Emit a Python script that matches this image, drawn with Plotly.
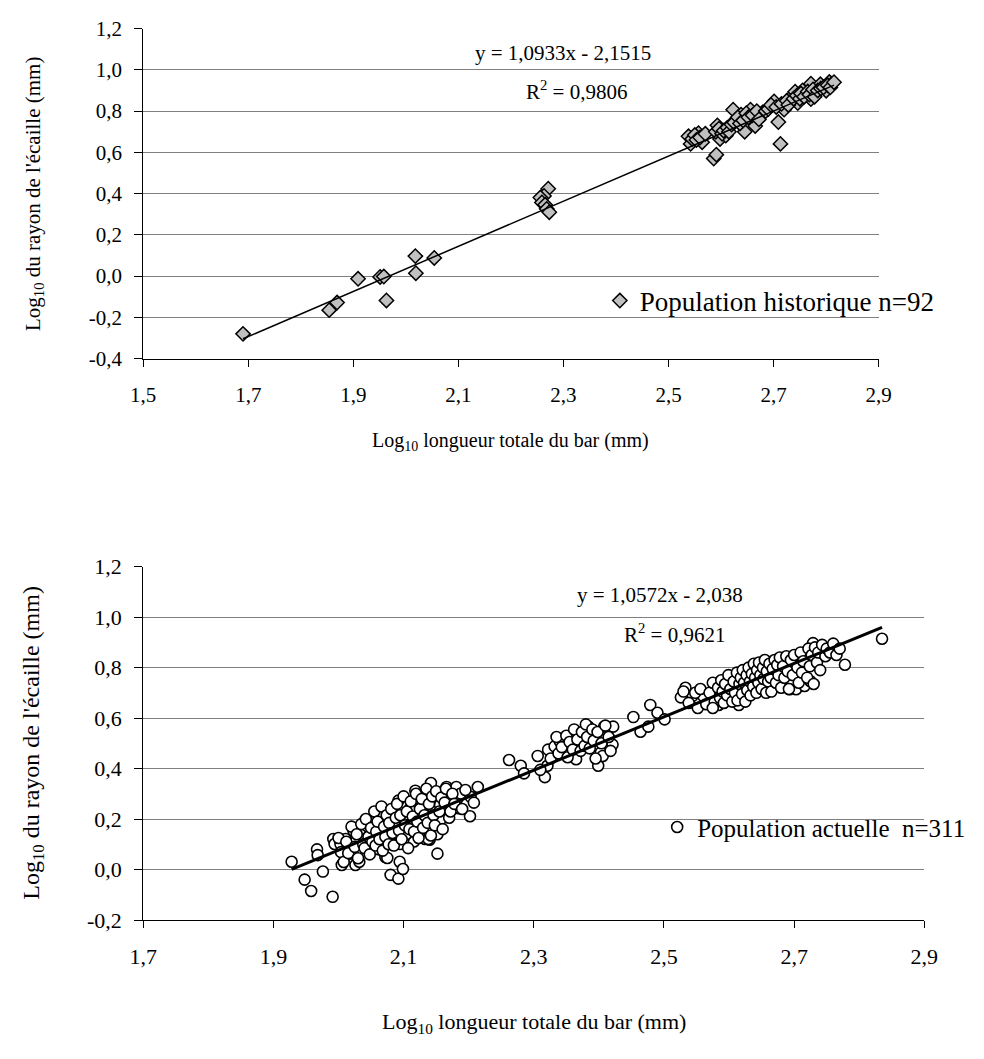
import plotly.graph_objects as go

# ---------------- Historical population (n=92) ----------------
hist_x = [
    1.690, 1.854, 1.869, 1.909, 1.951, 1.958, 1.963, 2.018, 2.019, 2.054,
    2.271, 2.263, 2.256, 2.259, 2.265, 2.268, 2.273,
    2.538, 2.542, 2.557, 2.564, 2.586, 2.591, 2.593, 2.598, 2.609, 2.623,
    2.629, 2.638, 2.645, 2.656, 2.665, 2.679, 2.701, 2.709, 2.713, 2.720,
    2.734, 2.741, 2.746, 2.755, 2.761, 2.771, 2.771, 2.780, 2.789, 2.800,
    2.806, 2.811,
    2.545, 2.550, 2.553, 2.560, 2.570, 2.590, 2.596, 2.602, 2.605, 2.612,
    2.615, 2.620, 2.625, 2.632, 2.636, 2.642, 2.648, 2.652, 2.660, 2.668,
    2.672, 2.685, 2.690, 2.695, 2.705, 2.715, 2.725, 2.728, 2.738, 2.744,
    2.750, 2.752, 2.758, 2.765, 2.768, 2.775, 2.778, 2.784, 2.790, 2.795,
    2.803, 2.808, 2.815,
]
hist_y = [
    -0.280, -0.165, -0.128, -0.013, -0.004, -0.002, -0.118, 0.097, 0.014, 0.088,
    0.424, 0.389, 0.381, 0.357, 0.346, 0.326, 0.310,
    0.678, 0.641, 0.693, 0.649, 0.570, 0.589, 0.731, 0.665, 0.681, 0.807,
    0.760, 0.783, 0.700, 0.807, 0.728, 0.794, 0.847, 0.747, 0.641, 0.807,
    0.870, 0.894, 0.839, 0.900, 0.878, 0.933, 0.858, 0.886, 0.930, 0.899,
    0.941, 0.933,
    0.665, 0.684, 0.660, 0.672, 0.690, 0.700, 0.715, 0.690, 0.705, 0.720,
    0.700, 0.735, 0.745, 0.770, 0.740, 0.755, 0.790, 0.770, 0.780, 0.800,
    0.760, 0.800, 0.810, 0.830, 0.820, 0.835, 0.850, 0.830, 0.860, 0.875,
    0.860, 0.885, 0.870, 0.895, 0.880, 0.905, 0.870, 0.900, 0.910, 0.915,
    0.925, 0.915, 0.940,
]
hist_slope, hist_intercept, hist_r2 = 1.0933, -2.1515, 0.9806

# ---------------- Current population (n=311) ----------------
cur_x = [
    # small fish
    1.928, 1.948, 1.958, 1.967, 1.968, 1.976, 1.991, 1.992, 1.994, 2.003,
    2.004, 2.005, 2.019, 2.026, 2.032, 2.055, 2.062, 2.072, 2.075, 2.080,
    2.092, 2.094, 2.099, 2.095, 2.116, 2.133, 2.140, 2.152,
    2.011, 2.023, 2.034, 2.044, 2.061, 2.064, 2.076, 2.084, 2.086, 2.092,
    2.099, 2.104, 2.110, 2.113, 2.118, 2.124, 2.127, 2.133, 2.136, 2.138,
    2.141, 2.142, 2.143, 2.152, 2.153, 2.156, 2.157, 2.166, 2.168, 2.170,
    2.181, 2.183, 2.185, 2.188, 2.203, 2.202, 2.214,
    2.000, 2.008, 2.012, 2.015, 2.020, 2.025, 2.028, 2.030, 2.035, 2.038,
    2.040, 2.042, 2.046, 2.048, 2.050, 2.052, 2.055, 2.057, 2.058, 2.060,
    2.063, 2.066, 2.068, 2.070, 2.072, 2.074, 2.077, 2.078, 2.081, 2.083,
    2.085, 2.088, 2.090, 2.093, 2.095, 2.097, 2.100, 2.102, 2.105, 2.107,
    2.109, 2.111, 2.114, 2.116, 2.119, 2.121, 2.123, 2.125, 2.128, 2.130,
    2.132, 2.135, 2.137, 2.139, 2.142, 2.144, 2.146, 2.148, 2.150, 2.155,
    2.158, 2.160, 2.163, 2.165, 2.172, 2.175, 2.178, 2.190, 2.195, 2.208,
    # medium fish
    2.262, 2.280, 2.285, 2.306, 2.317, 2.321, 2.322, 2.332, 2.340, 2.346,
    2.357, 2.365, 2.370, 2.376, 2.384, 2.388, 2.399, 2.403, 2.406, 2.408,
    2.421, 2.422, 2.453, 2.464, 2.476, 2.479, 2.490, 2.501,
    2.310, 2.326, 2.335, 2.338, 2.343, 2.350, 2.352, 2.355, 2.360, 2.362,
    2.367, 2.372, 2.374, 2.378, 2.380, 2.382, 2.386, 2.390, 2.392, 2.395,
    2.398, 2.404, 2.410, 2.415, 2.418,
    # large fish
    2.526, 2.533, 2.544, 2.560, 2.581, 2.584, 2.596, 2.601, 2.604, 2.611,
    2.614, 2.615, 2.626, 2.626, 2.636, 2.641, 2.647, 2.656, 2.661, 2.669,
    2.681, 2.691, 2.693, 2.701, 2.703, 2.713, 2.716, 2.718, 2.725, 2.729,
    2.745, 2.778, 2.835,
    2.530, 2.538, 2.548, 2.552, 2.556, 2.565, 2.570, 2.575, 2.578, 2.583,
    2.586, 2.588, 2.590, 2.592, 2.594, 2.597, 2.599, 2.602, 2.605, 2.607,
    2.609, 2.612, 2.613, 2.616, 2.618, 2.620, 2.621, 2.623, 2.625, 2.627,
    2.628, 2.630, 2.632, 2.633, 2.635, 2.637, 2.638, 2.640, 2.642, 2.643,
    2.645, 2.646, 2.648, 2.650, 2.652, 2.653, 2.655, 2.657, 2.658, 2.660,
    2.662, 2.664, 2.665, 2.667, 2.670, 2.672, 2.674, 2.676, 2.678, 2.680,
    2.683, 2.685, 2.688, 2.690, 2.692, 2.695, 2.698, 2.700, 2.705, 2.707,
    2.710, 2.712, 2.714, 2.720, 2.722, 2.724, 2.727, 2.730, 2.732, 2.735,
    2.737, 2.740, 2.743, 2.748, 2.750, 2.755, 2.760, 2.765, 2.770, 2.575,
]
cur_y = [
    # small fish
    0.031, -0.040, -0.085, 0.080, 0.057, -0.008, -0.108, 0.121, 0.101, 0.101,
    0.069, 0.018, 0.063, 0.018, 0.031, 0.121, 0.080, 0.050, 0.046, -0.021,
    -0.036, 0.031, 0.002, 0.101, 0.111, 0.121, 0.118, 0.063,
    0.121, 0.153, 0.159, 0.172, 0.217, 0.179, 0.211, 0.140, 0.188, 0.273,
    0.211, 0.140, 0.243, 0.185, 0.312, 0.136, 0.247, 0.301, 0.179, 0.121,
    0.170, 0.343, 0.250, 0.140, 0.301, 0.256, 0.198, 0.327, 0.288, 0.205,
    0.327, 0.282, 0.243, 0.301, 0.288, 0.211, 0.327,
    0.125, 0.030, 0.110, 0.065, 0.170, 0.090, 0.140, 0.045, 0.180, 0.100,
    0.085, 0.200, 0.130, 0.060, 0.165, 0.110, 0.230, 0.095, 0.150, 0.190,
    0.120, 0.250, 0.075, 0.170, 0.130, 0.215, 0.100, 0.185, 0.240, 0.145,
    0.095, 0.205, 0.260, 0.155, 0.215, 0.120, 0.290, 0.175, 0.230, 0.085,
    0.160, 0.270, 0.210, 0.150, 0.300, 0.190, 0.125, 0.240, 0.280, 0.165,
    0.215, 0.320, 0.185, 0.260, 0.135, 0.290, 0.215, 0.175, 0.310, 0.230,
    0.285, 0.160, 0.265, 0.320, 0.230, 0.300, 0.260, 0.240, 0.315, 0.265,
    # medium fish
    0.434, 0.411, 0.381, 0.450, 0.366, 0.411, 0.475, 0.488, 0.508, 0.469,
    0.488, 0.437, 0.540, 0.501, 0.566, 0.514, 0.411, 0.463, 0.450, 0.566,
    0.495, 0.566, 0.604, 0.546, 0.566, 0.652, 0.621, 0.595,
    0.395, 0.440, 0.525, 0.460, 0.485, 0.530, 0.445, 0.505, 0.475, 0.555,
    0.515, 0.470, 0.545, 0.490, 0.575, 0.525, 0.480, 0.555, 0.510, 0.440,
    0.545, 0.500, 0.570, 0.525, 0.470,
    # large fish
    0.682, 0.720, 0.688, 0.688, 0.701, 0.652, 0.720, 0.675, 0.759, 0.753,
    0.695, 0.652, 0.720, 0.682, 0.804, 0.753, 0.804, 0.730, 0.778, 0.827,
    0.727, 0.836, 0.714, 0.785, 0.714, 0.804, 0.727, 0.862, 0.746, 0.897,
    0.862, 0.811, 0.914,
    0.705, 0.660, 0.700, 0.640, 0.715, 0.655, 0.700, 0.740, 0.665, 0.720,
    0.680, 0.750, 0.705, 0.660, 0.735, 0.690, 0.770, 0.715, 0.665, 0.745,
    0.700, 0.780, 0.670, 0.735, 0.760, 0.695, 0.790, 0.740, 0.665, 0.770,
    0.710, 0.800, 0.745, 0.690, 0.775, 0.725, 0.815, 0.760, 0.700, 0.790,
    0.740, 0.820, 0.770, 0.715, 0.800, 0.755, 0.830, 0.700, 0.785, 0.745,
    0.815, 0.760, 0.705, 0.795, 0.830, 0.740, 0.810, 0.770, 0.840, 0.720,
    0.805, 0.760, 0.845, 0.785, 0.715, 0.830, 0.770, 0.850, 0.800, 0.740,
    0.860, 0.780, 0.825, 0.760, 0.875, 0.805, 0.850, 0.735, 0.880, 0.820,
    0.860, 0.790, 0.890, 0.845, 0.875, 0.860, 0.895, 0.850, 0.875, 0.640,
]
cur_slope, cur_intercept, cur_r2 = 1.0572, -2.038, 0.9621

# ---------------- Axis ticks ----------------
top_xticks = [1.5, 1.7, 1.9, 2.1, 2.3, 2.5, 2.7, 2.9]
top_xtext = ["1,5", "1,7", "1,9", "2,1", "2,3", "2,5", "2,7", "2,9"]
top_yticks = [-0.4, -0.2, 0.0, 0.2, 0.4, 0.6, 0.8, 1.0, 1.2]
top_ytext = ["-0,4", "-0,2", "0,0", "0,2", "0,4", "0,6", "0,8", "1,0", "1,2"]
bot_xticks = [1.7, 1.9, 2.1, 2.3, 2.5, 2.7, 2.9]
bot_xtext = ["1,7", "1,9", "2,1", "2,3", "2,5", "2,7", "2,9"]
bot_yticks = [-0.2, 0.0, 0.2, 0.4, 0.6, 0.8, 1.0, 1.2]
bot_ytext = ["-0,2", "0,0", "0,2", "0,4", "0,6", "0,8", "1,0", "1,2"]

W, H = 984, 1059
FONT = "'Times New Roman', 'Liberation Serif', Times, serif"


def px(x):
    return x / W


def py(y):
    return 1 - y / H


def fr(v, nd):
    return f"{v:.{nd}f}".replace(".", ",")


fig = go.Figure()

# historical scatter + fitted line
fig.add_trace(go.Scatter(
    x=hist_x, y=hist_y, mode="markers", name="Population historique n=92",
    marker=dict(symbol="diamond", size=11, color="#c0c0c0",
                line=dict(color="black", width=1.5)),
    xaxis="x", yaxis="y", legend="legend",
))
hx = [min(hist_x), max(hist_x)]
fig.add_trace(go.Scatter(
    x=hx, y=[hist_slope * v + hist_intercept for v in hx], mode="lines",
    line=dict(color="black", width=1.5), showlegend=False,
    xaxis="x", yaxis="y",
))

# current scatter + fitted line
fig.add_trace(go.Scatter(
    x=cur_x, y=cur_y, mode="markers", name="Population actuelle  n=311",
    marker=dict(symbol="circle", size=11, color="white",
                line=dict(color="black", width=1.6)),
    xaxis="x2", yaxis="y2", legend="legend2",
))
cx = [min(cur_x), max(cur_x)]
fig.add_trace(go.Scatter(
    x=cx, y=[cur_slope * v + cur_intercept for v in cx], mode="lines",
    line=dict(color="black", width=3), showlegend=False,
    xaxis="x2", yaxis="y2",
))


def xaxis_style(size):
    return dict(showgrid=False, zeroline=False, showline=True,
                linecolor="black", linewidth=1, ticks="outside", ticklen=7,
                tickcolor="black", ticklabelstandoff=10,
                tickfont=dict(family=FONT, size=size, color="black"))


def yaxis_style(size):
    return dict(showgrid=True, gridcolor="#808080", gridwidth=1,
                zeroline=False, showline=True, linecolor="black", linewidth=1,
                ticks="outside", ticklen=8, tickcolor="black",
                ticklabelstandoff=8,
                tickfont=dict(family=FONT, size=size, color="black"))


fig.update_layout(
    width=W, height=H,
    margin=dict(l=0, r=0, t=0, b=0),
    paper_bgcolor="white", plot_bgcolor="white",
    font=dict(family=FONT, color="black"),
    xaxis=dict(domain=[px(133), px(890)], range=[1.5, 2.9], anchor="y",
               tickvals=top_xticks, ticktext=top_xtext, **xaxis_style(21)),
    yaxis=dict(domain=[py(355), py(17)], range=[-0.4, 1.2], anchor="x",
               tickvals=top_yticks, ticktext=top_ytext, **yaxis_style(21)),
    xaxis2=dict(domain=[px(133), px(937)], range=[1.7, 2.9], anchor="y2",
                tickvals=bot_xticks, ticktext=bot_xtext, **xaxis_style(22)),
    yaxis2=dict(domain=[py(930), py(568)], range=[-0.2, 1.2], anchor="x2",
                tickvals=bot_yticks, ticktext=bot_ytext, **yaxis_style(22)),
    legend=dict(x=px(603), y=py(296), xanchor="left", yanchor="middle",
                bgcolor="rgba(0,0,0,0)", font=dict(family=FONT, size=27),
                itemsizing="trace"),
    legend2=dict(x=px(662), y=py(835), xanchor="left", yanchor="middle",
                 bgcolor="rgba(0,0,0,0)", font=dict(family=FONT, size=25),
                 itemsizing="trace"),
)

# white panels behind the legends interrupt the gridlines they cover
fig.add_shape(type="rect", xref="paper", yref="paper", layer="between",
              x0=px(577), x1=px(890), y0=py(335), y1=py(250),
              fillcolor="white", line=dict(width=0))
fig.add_shape(type="rect", xref="paper", yref="paper", layer="between",
              x0=px(651), x1=px(937), y0=py(900), y1=py(845),
              fillcolor="white", line=dict(width=0))

annotations = [
    dict(x=px(565), y=py(42), size=21,
         text=f"y = {fr(hist_slope, 4)}x - {fr(-hist_intercept, 4)}"),
    dict(x=px(579), y=py(80), size=21,
         text=f"R<sup>2</sup> = {fr(hist_r2, 4)}"),
    dict(x=px(665), y=py(597), size=21,
         text=f"y = {fr(cur_slope, 4)}x - {fr(-cur_intercept, 3)}"),
    dict(x=px(680), y=py(637), size=21,
         text=f"R<sup>2</sup> = {fr(cur_r2, 4)}"),
]
for a in annotations:
    fig.add_annotation(xref="paper", yref="paper", xanchor="center",
                       yanchor="middle", showarrow=False, x=a["x"], y=a["y"],
                       text=a["text"],
                       font=dict(family=FONT, size=a["size"], color="black"))

# axis titles
for (x, y, size) in [(511, 440, 20), (535, 1035, 22)]:
    fig.add_annotation(xref="paper", yref="paper", x=px(x), y=py(y),
                       xanchor="center", yanchor="middle", showarrow=False,
                       font=dict(family=FONT, size=size, color="black"),
                       text="Log<sub>10</sub> longueur totale du bar (mm)")
for (x, y, size) in [(20, 186, 21), (20, 748, 24)]:
    fig.add_annotation(xref="paper", yref="paper", x=px(x), y=py(y),
                       xanchor="center", yanchor="middle", showarrow=False,
                       textangle=-90,
                       font=dict(family=FONT, size=size, color="black"),
                       text="Log<sub>10</sub> du rayon de l'écaille (mm)")

fig.write_html("out.html")
